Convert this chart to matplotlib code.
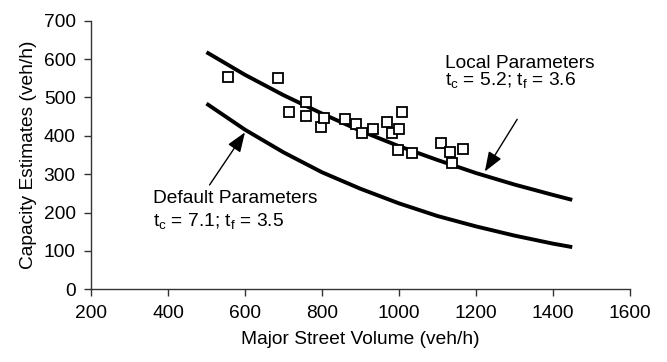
import matplotlib
matplotlib.use("Agg")
import matplotlib.pyplot as plt

plt.rcParams['font.family'] = ['Liberation Sans', 'DejaVu Sans']
plt.rcParams['mathtext.fontset'] = 'custom'
plt.rcParams['mathtext.rm'] = 'Liberation Sans'
plt.rcParams['mathtext.it'] = 'Liberation Sans'

# Observed capacity estimates
obs_x = [555, 686, 714, 758, 758, 797, 806, 861, 888, 905, 933, 969, 981, 997,
         1001, 1009, 1033, 1108, 1133, 1139, 1165]
obs_y = [554, 550, 461, 487, 452, 423, 447, 443, 432, 407, 419, 437, 407, 362,
         417, 461, 356, 382, 358, 330, 365]

# Capacity curves
curve_x = [500, 600, 700, 800, 900, 1000, 1100, 1200, 1300, 1400, 1450]
local_y = [618, 559, 506, 458, 413, 373, 337, 303, 273, 246, 233]
default_y = [484, 416, 357, 305, 262, 224, 191, 164, 140, 119, 110]

x_ticks = [200, 400, 600, 800, 1000, 1200, 1400, 1600]
y_ticks = [0, 100, 200, 300, 400, 500, 600, 700]

fig = plt.figure(figsize=(6.67, 3.62), dpi=100)
ax = fig.add_axes([0.1364, 0.2008, 0.8081, 0.7420])

ax.plot(curve_x, local_y, color='black', lw=2.8, solid_capstyle='butt', zorder=2)
ax.plot(curve_x, default_y, color='black', lw=2.8, solid_capstyle='butt', zorder=2)
ax.plot(obs_x, obs_y, linestyle='none', marker='s', markersize=7.2,
        markerfacecolor='white', markeredgecolor='black', markeredgewidth=1.3, zorder=3)

fs = 13.8
ax.set_xlim(200, 1600)
ax.set_ylim(0, 700)
ax.set_xticks(x_ticks)
ax.set_yticks(y_ticks)
for s in ['top', 'right']:
    ax.spines[s].set_visible(False)
for s in ['left', 'bottom']:
    ax.spines[s].set_color('#333333')
    ax.spines[s].set_linewidth(1.0)
ax.tick_params(axis='both', direction='out', length=5, width=1.0, color='#333333',
               labelsize=fs, pad=6)
ax.set_xlabel('Major Street Volume (veh/h)', fontsize=fs, labelpad=7)
ax.set_ylabel('Capacity Estimates (veh/h)', fontsize=fs, labelpad=5)

ax.text(1120, 577, 'Local Parameters', fontsize=fs, va='baseline', ha='left')
ax.text(1120, 532, r't$_\mathregular{c}$ = 5.2; t$_\mathregular{f}$ = 3.6', fontsize=fs,
        va='baseline', ha='left')
ax.text(362, 226, 'Default Parameters', fontsize=fs, va='baseline', ha='left')
ax.text(362, 166, r't$_\mathregular{c}$ = 7.1; t$_\mathregular{f}$ = 3.5', fontsize=fs,
        va='baseline', ha='left')

arrowprops = dict(arrowstyle='-|>,head_length=1.2,head_width=0.45', color='black',
                  lw=1.0, shrinkA=0, shrinkB=0)
ax.annotate('', xy=(1223, 307), xytext=(1307, 443), arrowprops=arrowprops)
ax.annotate('', xy=(600, 409), xytext=(508, 272), arrowprops=arrowprops)

fig.savefig('out.png', dpi=100)
